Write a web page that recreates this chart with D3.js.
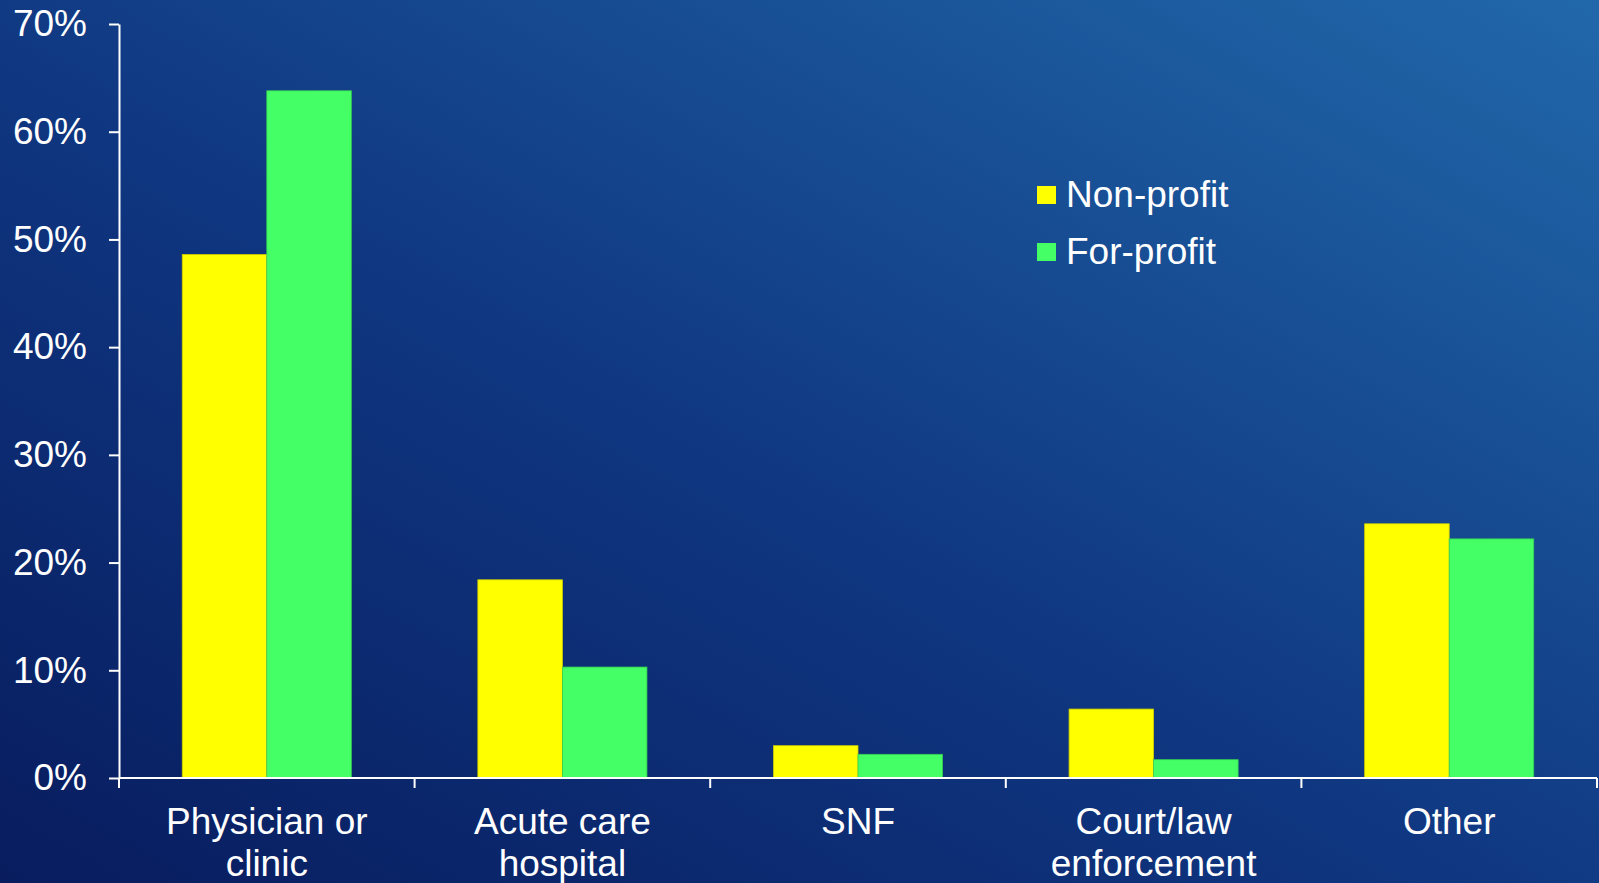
<!DOCTYPE html>
<html lang="en">
  <head>
    <meta charset="UTF-8"/>
    <title>Referral source by ownership</title>
    <script src="https://d3js.org/d3.v7.min.js"></script>
    <style>
      body { margin: 0; overflow: hidden; }
      text {
        font-family: 'Liberation Sans', Arial, sans-serif;
        font-size: 37px;
        fill: #fff;
      }
      .axis path,
      .axis line {
        fill: none;
        stroke: #fff;
        stroke-width: 2px;
      }
    </style>
  </head>
  <body>
    <script>
      const categories = [["Physician or", "clinic"], ["Acute care", "hospital"], ["SNF"], ["Court/law", "enforcement"], ["Other"]]
      const seriesNames = ["Non-profit", "For-profit"]
      const nonProfit = [0.486, 0.184, 0.030, 0.064, 0.236]
      const forProfit = [0.638, 0.103, 0.022, 0.017, 0.222]
      const yTicks = [0, 0.1, 0.2, 0.3, 0.4, 0.5, 0.6, 0.7]
      const colors = ["#ffff00", "#44ff66"]

      const outerWidth = 1599,
            outerHeight = 883,
            margin = ({top: 24, right: 2, bottom: 105, left: 119}),
            width = outerWidth - margin.left - margin.right,
            height = outerHeight - margin.top - margin.bottom

      const keys = categories.map(c => c.join(" "))
      const data = keys.map((k, i) => ({key: k, values: [nonProfit[i], forProfit[i]]}))

      const svg = d3.select("body").append("svg")
          .attr("width", outerWidth)
          .attr("height", outerHeight)

      // background gradient, dark navy bottom-left to lighter blue top-right
      const grad = svg.append("defs").append("linearGradient")
          .attr("id", "bg")
          .attr("x1", 0).attr("y1", 1).attr("x2", 1).attr("y2", 0)
      grad.append("stop").attr("offset", "0%").attr("stop-color", "#081c5e")
      grad.append("stop").attr("offset", "45%").attr("stop-color", "#0f3680")
      grad.append("stop").attr("offset", "100%").attr("stop-color", "#2168aa")

      svg.append("rect")
          .attr("width", outerWidth)
          .attr("height", outerHeight)
          .attr("fill", "url(#bg)")

      const g = svg.append("g")
          .attr("transform", `translate(${margin.left},${margin.top})`)

      const x0 = d3.scaleBand()
          .domain(keys)
          .range([0, width])

      const bw = x0.bandwidth()
      const gap = bw * 0.214
      const x1 = d3.scaleBand()
          .domain(d3.range(seriesNames.length))
          .range([gap, bw - gap])

      const y = d3.scaleLinear()
          .domain([0, 0.7])
          .range([height, 0])

      // bars
      g.selectAll(".group")
          .data(data)
          .join("g")
          .attr("class", "group")
          .attr("transform", d => `translate(${x0(d.key)},0)`)
          .selectAll("rect")
          .data(d => d.values.map((v, i) => ({v, i})))
          .join("rect")
          .attr("x", d => x1(d.i))
          .attr("width", x1.bandwidth())
          .attr("y", d => y(d.v))
          .attr("height", d => height - y(d.v))
          .attr("fill", d => colors[d.i])
          .attr("stroke", d => d3.color(colors[d.i]).darker(0.6))
          .attr("stroke-width", 0.8)

      // y axis
      g.append("g")
          .attr("class", "axis")
          .call(d3.axisLeft(y)
              .tickValues(yTicks)
              .tickFormat(d3.format(".0%"))
              .tickSize(10)
              .tickSizeOuter(0)
              .tickPadding(22))
          .call(a => a.selectAll("text").attr("fill", "#fff").style("font-size", "37px").style("font-family", "'Liberation Sans', Arial, sans-serif"))

      // x axis: line plus boundary ticks
      const boundaries = keys.map(k => x0(k)).concat([width])
      const xAxisG = g.append("g")
          .attr("class", "axis")
          .attr("transform", `translate(0,${height})`)
      xAxisG.append("line")
          .attr("x1", 0).attr("x2", width)
          .attr("stroke", "#e8ecf4")
      xAxisG.selectAll(".tick")
          .data(boundaries)
          .join("line")
          .attr("class", "tick")
          .attr("x1", d => d).attr("x2", d => d)
          .attr("y1", 0).attr("y2", 10)

      // category labels
      const labels = xAxisG.selectAll(".cat")
          .data(categories)
          .join("text")
          .attr("class", "cat")
          .attr("text-anchor", "middle")
          .attr("x", (d, i) => x0(keys[i]) + bw / 2)
          .attr("y", 56)
      labels.selectAll("tspan")
          .data(d => d)
          .join("tspan")
          .attr("x", function() { return d3.select(this.parentNode).attr("x") })
          .attr("dy", (d, i) => i === 0 ? 0 : 42)
          .text(d => d)

      // legend
      const legend = svg.append("g")
          .attr("transform", "translate(1037,186)")
      const item = legend.selectAll("g")
          .data(seriesNames)
          .join("g")
          .attr("transform", (d, i) => `translate(0,${i * 57})`)
      item.append("rect")
          .attr("width", 19)
          .attr("height", 18)
          .attr("fill", (d, i) => colors[i])
      item.append("text")
          .attr("x", 29)
          .attr("y", 21)
          .text(d => d)
    </script>
  </body>
</html>
